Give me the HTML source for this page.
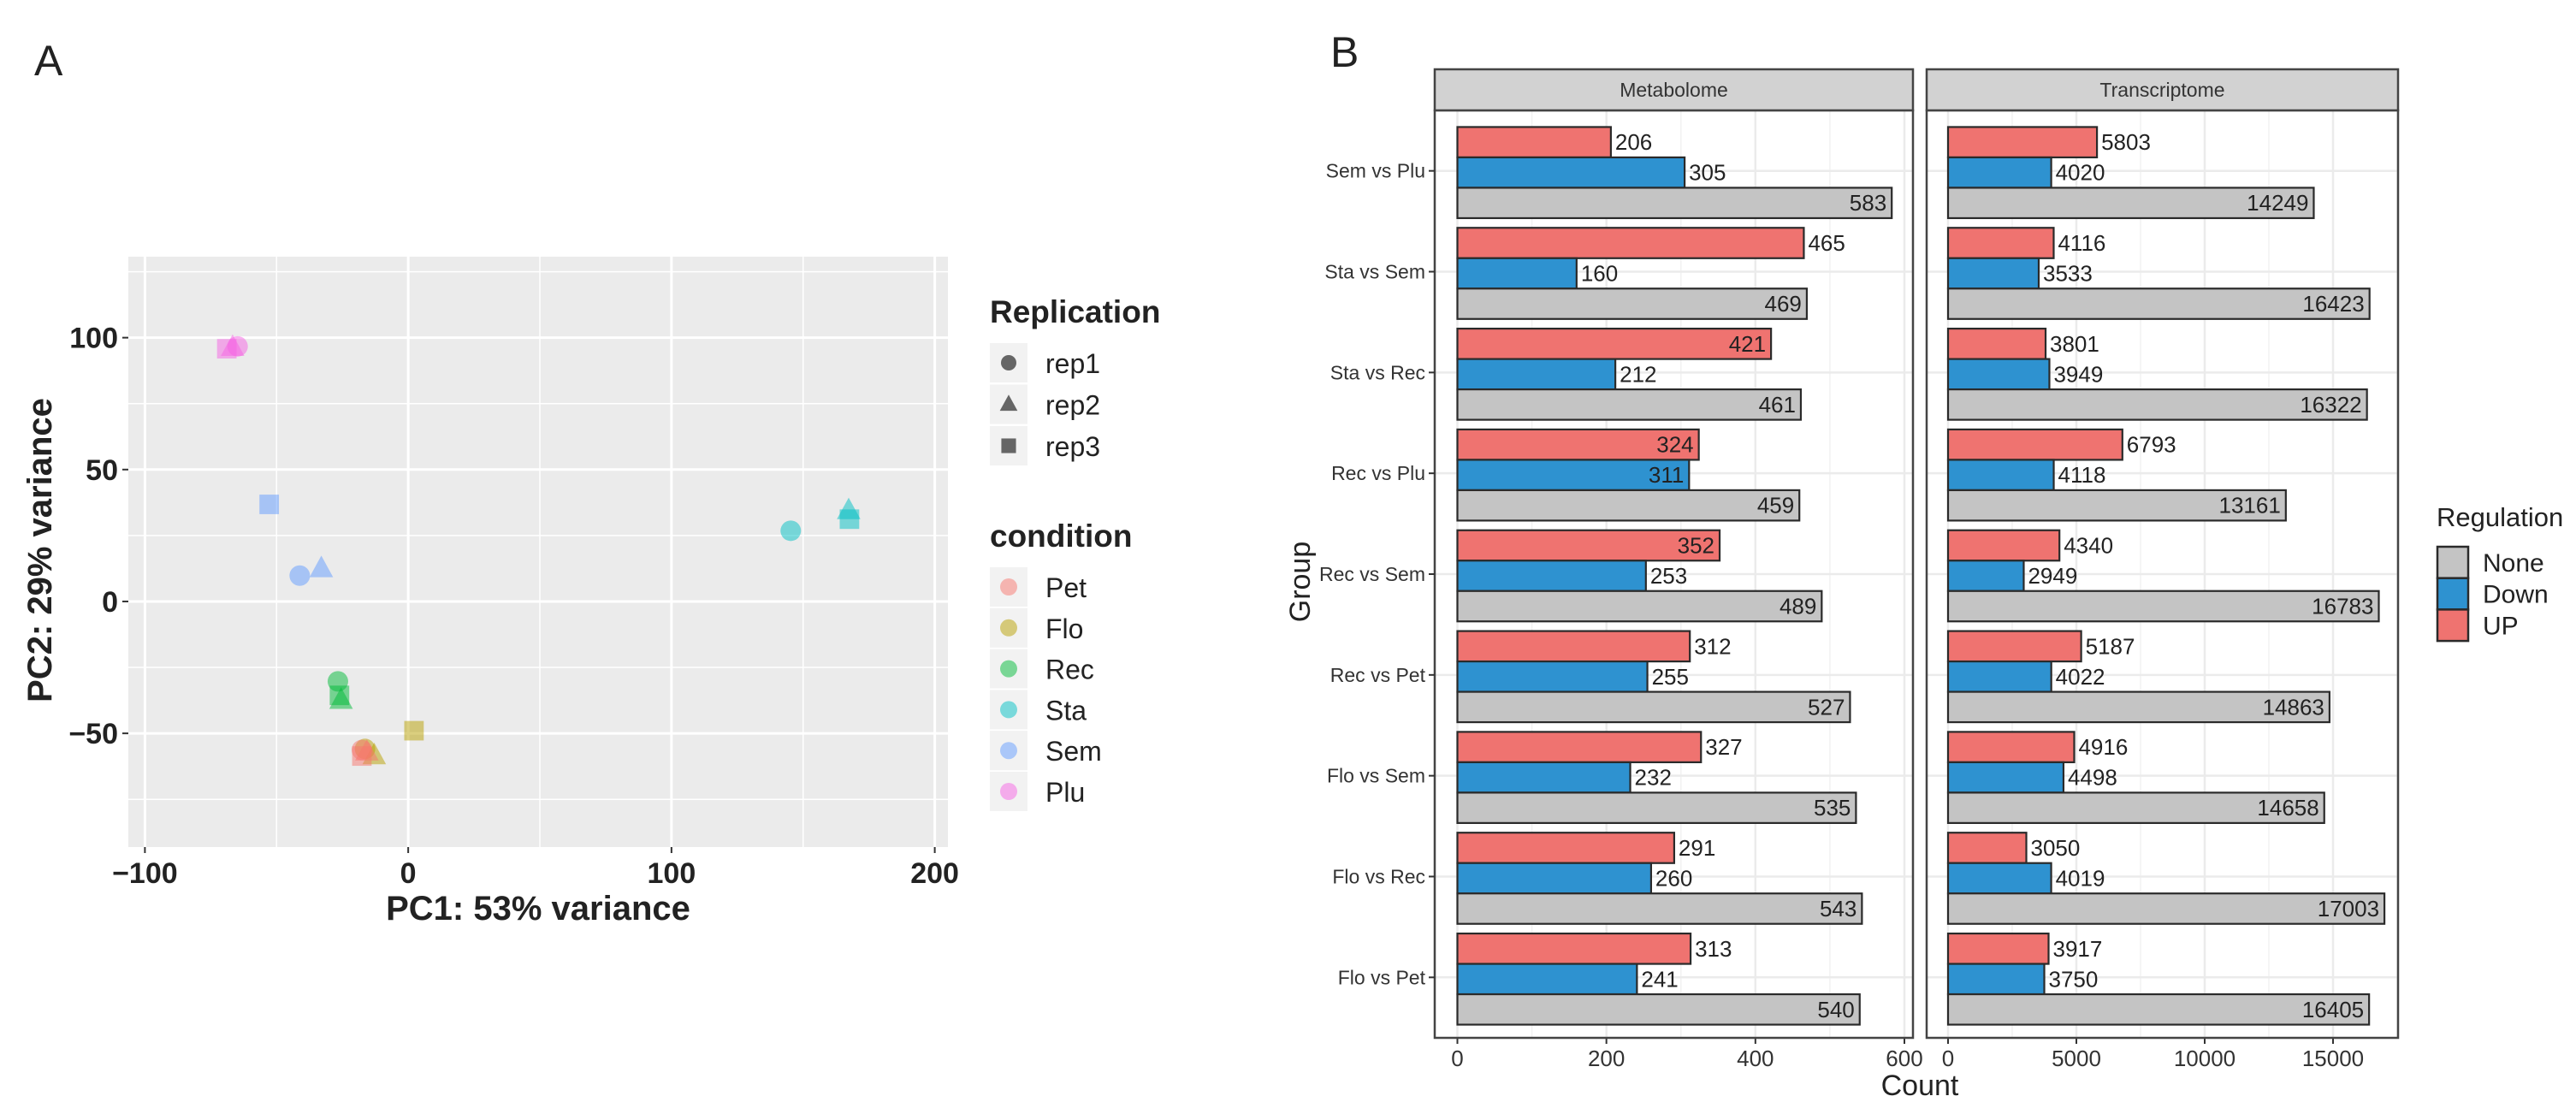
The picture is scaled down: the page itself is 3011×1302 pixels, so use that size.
<!DOCTYPE html>
<html><head><meta charset="utf-8">
<style>
html,body{margin:0;padding:0;background:#fff;}
svg{display:block;font-family:"Liberation Sans",Arial,sans-serif;}
</style></head>
<body>
<svg id="fig" width="3011" height="1302" viewBox="0 0 3011 1302" xmlns="http://www.w3.org/2000/svg">
<rect width="3011" height="1302" fill="#fff"/>
<g id="pca"></g>
<g id="bars"></g>
</svg>
<script>
// ---------- Panel A data ----------
const pcaConditions = ["Pet","Flo","Rec","Sta","Sem","Plu"];
const pcaColors = ["#F8766D","#B79F00","#00BA38","#00BFC4","#619CFF","#F564E3"];
const pcaReps = ["rep1","rep2","rep3"];
const pcaPointCond = ["Plu","Plu","Plu","Sem","Sem","Sem","Sta","Sta","Sta","Rec","Rec","Rec","Flo","Flo","Flo","Pet","Pet","Pet"];
const pcaPointRep  = ["rep3","rep2","rep1","rep3","rep1","rep2","rep1","rep2","rep3","rep1","rep3","rep2","rep3","rep1","rep2","rep1","rep2","rep3"];
const pcaPC1 = [-68.9,-66.7,-64.8,-52.8,-41.2,-33,145.3,167.3,167.6,-26.7,-26.1,-25.5,2.2,-16.4,-12.9,-17.6,-15.7,-17.6];
const pcaPC2 = [95.8,96.4,96.7,36.8,9.8,12.5,26.8,34.5,31.2,-30.3,-35.6,-37.4,-49,-55.9,-58.4,-56.3,-57,-58.6];
const pcaXTicks = [-100,0,100,200];
const pcaYTicks = [-50,0,50,100];

// ---------- Panel B data ----------
const groups = ["Sem vs Plu","Sta vs Sem","Sta vs Rec","Rec vs Plu","Rec vs Sem","Rec vs Pet","Flo vs Sem","Flo vs Rec","Flo vs Pet"];
const metUp   = [206,465,421,324,352,312,327,291,313];
const metDown = [305,160,212,311,253,255,232,260,241];
const metNone = [583,469,461,459,489,527,535,543,540];
const trUp    = [5803,4116,3801,6793,4340,5187,4916,3050,3917];
const trDown  = [4020,3533,3949,4118,2949,4022,4498,4019,3750];
const trNone  = [14249,16423,16322,13161,16783,14863,14658,17003,16405];
const metUpInside   = [false,false,true,true,true,false,false,false,false];
const metDownInside = [false,false,false,true,false,false,false,false,false];
const metTicks = [0,200,400,600];
const trTicks = [0,5000,10000,15000];

const NS="http://www.w3.org/2000/svg";
function mk(parent,tag,attrs,text){const e=document.createElementNS(NS,tag);for(const k in attrs)e.setAttribute(k,attrs[k]);if(text!==undefined)e.textContent=text;parent.appendChild(e);return e;}

// ---------- Panel A ----------
(function(){
const g=document.getElementById('pca');
const PX0=150,PX1=1108,PY0=300,PY1=990;
const xMin=-106.3,xMax=205,yMin=-93.1,yMax=130.7;
const sx=v=>PX0+(v-xMin)/(xMax-xMin)*(PX1-PX0);
const sy=v=>PY1-(v-yMin)/(yMax-yMin)*(PY1-PY0);
let t=mk(g,'text',{x:40,y:88,'font-size':50,fill:'#222'},'A');

let r=mk(g,'rect',{x:PX0,y:PY0,width:PX1-PX0,height:PY1-PY0,fill:'#EBEBEB'});

for(let i=0;i<pcaXTicks.length-1;i++){const v=(pcaXTicks[i]+pcaXTicks[i+1])/2;const l=mk(g,'line',{x1:sx(v),x2:sx(v),y1:PY0,y2:PY1,stroke:'#fff','stroke-width':1.5});}
for(let v=-75;v<=125;v+=50){const l=mk(g,'line',{x1:PX0,x2:PX1,y1:sy(v),y2:sy(v),stroke:'#fff','stroke-width':1.5});}
pcaXTicks.forEach(v=>{const l=mk(g,'line',{x1:sx(v),x2:sx(v),y1:PY0,y2:PY1,stroke:'#fff','stroke-width':3});
 const k=mk(g,'line',{x1:sx(v),x2:sx(v),y1:PY1,y2:PY1+7,stroke:'#333','stroke-width':2});
 const tx=mk(g,'text',{x:sx(v),y:PY1+42,'font-size':34,'font-weight':'bold','text-anchor':'middle',fill:'#222'},v<0?'\u2212'+(-v):String(v));});
pcaYTicks.forEach(v=>{const l=mk(g,'line',{x1:PX0,x2:PX1,y1:sy(v),y2:sy(v),stroke:'#fff','stroke-width':3});
 const k=mk(g,'line',{x1:PX0-7,x2:PX0,y1:sy(v),y2:sy(v),stroke:'#333','stroke-width':2});
 const tx=mk(g,'text',{x:PX0-12,y:sy(v)+12,'font-size':34,'font-weight':'bold','text-anchor':'end',fill:'#222'},v<0?'\u2212'+(-v):String(v));});
function shape(par,rep,cx,cy,col,s){
 let e;
 if(rep==='rep1')e=mk(par,'circle',{cx:cx,cy:cy,r:s,fill:col});
 else if(rep==='rep2')e=mk(par,'polygon',{points:`${cx},${cy-s*1.25} ${cx-s*1.15},${cy+s*0.85} ${cx+s*1.15},${cy+s*0.85}`,fill:col});
 else e=mk(par,'rect',{x:cx-s*0.95,y:cy-s*0.95,width:s*1.9,height:s*1.9,fill:col});
 return e;}
for(let i=0;i<pcaPC1.length;i++){
 const col=pcaColors[pcaConditions.indexOf(pcaPointCond[i])];
 const e=shape(g,pcaPointRep[i],sx(pcaPC1[i]),sy(pcaPC2[i]),col,12);
 e.setAttribute('opacity','0.5');
 
 }
t=mk(g,'text',{x:629,y:1075,'font-size':40,'font-weight':'bold','text-anchor':'middle',fill:'#222'},'PC1: 53% variance');

t=mk(g,'text',{x:0,y:0,'font-size':40,'font-weight':'bold','text-anchor':'middle',fill:'#222',transform:'translate(60,643) rotate(-90)'},'PC2: 29% variance');

t=mk(g,'text',{x:1157,y:377,'font-size':37,'font-weight':'bold',fill:'#222'},'Replication');

pcaReps.forEach((rp,i)=>{const cy=424+i*48.5;
 const b=mk(g,'rect',{x:1157,y:cy-23,width:44,height:46,fill:'#F2F2F2'});
 const e=shape(g,rp,1179,cy,'#666',9);
 const tx=mk(g,'text',{x:1222,y:cy+12,'font-size':32,fill:'#222'},rp);});
t=mk(g,'text',{x:1157,y:639,'font-size':37,'font-weight':'bold',fill:'#222'},'condition');

pcaConditions.forEach((c,i)=>{const cy=686+i*47.8;
 const b=mk(g,'rect',{x:1157,y:cy-23,width:44,height:46,fill:'#F2F2F2'});
 const e=mk(g,'circle',{cx:1179,cy:cy,r:10,fill:pcaColors[i],opacity:0.5});
 const tx=mk(g,'text',{x:1222,y:cy+12,'font-size':32,fill:'#222'},c);});
})();

// ---------- Panel B ----------
(function(){
const g=document.getElementById('bars');
const PY0=129,PY1=1213,STRIP0=81;
const upC='#EF7370',downC='#2E92D0',noneC='#C4C4C4';
const unit=(PY1-PY0)/(groups.length-1+1.2);
const gy=i=>PY0+(0.6+i)*unit;
let t=mk(g,'text',{x:1555,y:78,'font-size':50,fill:'#222'},'B');

const facets=[
 {name:'Metabolome',x0:1677,x1:2236,z:1703.5,max:600,ticks:metTicks,up:metUp,down:metDown,none:metNone,upIn:metUpInside,downIn:metDownInside},
 {name:'Transcriptome',x0:2252,x1:2803,z:2277,max:15000,ticks:trTicks,up:trUp,down:trDown,none:trNone,upIn:null,downIn:null}];
facets.forEach((f,fi)=>{
 const pxPer = fi===0 ? (2226-1703.5)/600 : (2727-2277)/15000;
 const sx=v=>f.z+v*pxPer;
 const fg=mk(g,'g',{});
 for(let i=0;i<f.ticks.length;i++){
  const mv=f.ticks[i]+(f.ticks[1]-f.ticks[0])/2;
  if(sx(mv)<f.x1){const l=mk(fg,'line',{x1:sx(mv),x2:sx(mv),y1:PY0,y2:PY1,stroke:'#F2F2F2','stroke-width':1.5});}
  const l=mk(fg,'line',{x1:sx(f.ticks[i]),x2:sx(f.ticks[i]),y1:PY0,y2:PY1,stroke:'#EBEBEB','stroke-width':2.5});
  const k=mk(fg,'line',{x1:sx(f.ticks[i]),x2:sx(f.ticks[i]),y1:PY1,y2:PY1+7,stroke:'#333','stroke-width':2});
  const tx=mk(fg,'text',{x:sx(f.ticks[i]),y:PY1+33,'font-size':26,'text-anchor':'middle',fill:'#333'},String(f.ticks[i]));
 }
 groups.forEach((gn,i)=>{const l=mk(fg,'line',{x1:f.x0,x2:f.x1,y1:gy(i),y2:gy(i),stroke:'#EBEBEB','stroke-width':2.5});});
 groups.forEach((gn,i)=>{
  const c=gy(i)+2,h=35.5;
  const rows=[[f.up[i],upC,'up',f.upIn?f.upIn[i]:false],[f.down[i],downC,'down',f.downIn?f.downIn[i]:false],[f.none[i],noneC,'none',true]];
  rows.forEach((rw,j)=>{
   const y=c-h*1.5+j*h;
   const b=mk(fg,'rect',{x:sx(0),y:y,width:sx(rw[0])-sx(0),height:h,fill:rw[1],stroke:'#2a2a2a','stroke-width':2.2});
   
   
   const inside=rw[3];
   const tx=mk(fg,'text',{x:inside?sx(rw[0])-6:sx(rw[0])+5,y:y+h/2+9,'font-size':26,'text-anchor':inside?'end':'start',fill:'#222'},String(rw[0]));
   
   
  });
 });
 const pb=mk(fg,'rect',{x:f.x0,y:PY0,width:f.x1-f.x0,height:PY1-PY0,fill:'none',stroke:'#444','stroke-width':2.5});
 const st=mk(fg,'rect',{x:f.x0,y:STRIP0,width:f.x1-f.x0,height:PY0-STRIP0,fill:'#D2D2D2',stroke:'#444','stroke-width':2.5});
 const sl=mk(fg,'text',{x:(f.x0+f.x1)/2,y:PY0-16,'font-size':23,'text-anchor':'middle',fill:'#333'},f.name);
});
groups.forEach((gn,i)=>{
 const k=mk(g,'line',{x1:1670,x2:1677,y1:gy(i),y2:gy(i),stroke:'#333','stroke-width':2});
 const tx=mk(g,'text',{x:1666,y:gy(i)+8,'font-size':23,'text-anchor':'end',fill:'#333'},gn);});
t=mk(g,'text',{x:2244,y:1280,'font-size':34,'text-anchor':'middle',fill:'#222'},'Count');

t=mk(g,'text',{x:0,y:0,'font-size':34,'text-anchor':'middle',fill:'#222',transform:'translate(1531,680) rotate(-90)'},'Group');

t=mk(g,'text',{x:2848,y:615,'font-size':31,fill:'#222'},'Regulation');

[['None',noneC],['Down',downC],['UP',upC]].forEach((e,i)=>{
 const y=639+i*36.7;
 const b=mk(g,'rect',{x:2849,y:y,width:36,height:36.7,fill:e[1],stroke:'#2a2a2a','stroke-width':2.5});
 const tx=mk(g,'text',{x:2902,y:y+29,'font-size':30,fill:'#222'},e[0]);});
})();
</script>
</body></html>
